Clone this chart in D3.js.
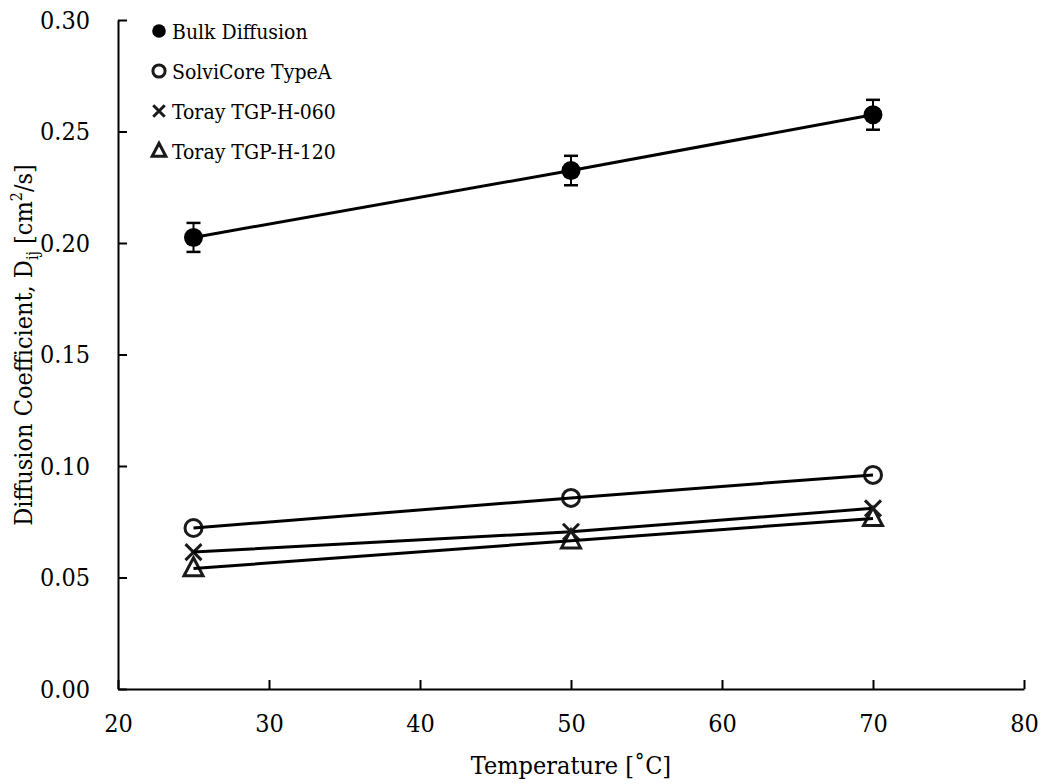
<!DOCTYPE html>
<html>
<head>
<meta charset="utf-8">
<script src="https://cdn.jsdelivr.net/npm/d3@7"></script>
<style>
  html, body { margin: 0; padding: 0; background: #fff; }
  svg { display: block; }
  text { font-family: "DejaVu Serif Condensed", "DejaVu Serif", serif; font-stretch: condensed; fill: #000; }
</style>
</head>
<body>
<svg id="chart" width="1044" height="784"></svg>
<script>
// ---- data ----
const temperatures = [25, 50, 70];
const bulkDiffusion = [0.2025, 0.2325, 0.2575];
const bulkError = [0.0065, 0.0066, 0.0067];
const solviCore = [0.0722, 0.0857, 0.0960];
const toray060 = [0.0614, 0.0705, 0.0810];
const toray120 = [0.0540, 0.0665, 0.0765];
const seriesNames = ["Bulk Diffusion", "SolviCore TypeA", "Toray TGP-H-060", "Toray TGP-H-120"];
const xTicks = [20, 30, 40, 50, 60, 70, 80];
const yTicks = [0.00, 0.05, 0.10, 0.15, 0.20, 0.25, 0.30];

// ---- layout ----
const FONT = '"DejaVu Serif Condensed", "DejaVu Serif", serif';
const svg = d3.select("#chart");
const x = d3.scaleLinear().domain([20, 80]).range([118, 1024]);
const y = d3.scaleLinear().domain([0, 0.30]).range([689, 20]);

const series = [
  { name: seriesNames[0], values: bulkDiffusion, err: bulkError, marker: "filled" },
  { name: seriesNames[1], values: solviCore, marker: "open" },
  { name: seriesNames[2], values: toray060, marker: "cross" },
  { name: seriesNames[3], values: toray120, marker: "triangle" }
];

function drawMarker(g, type, cx, cy, s, sw) {
  if (type === "filled") {
    g.append("circle").attr("cx", cx).attr("cy", cy).attr("r", 9.5 * s).attr("fill", "#000");
  } else if (type === "open") {
    g.append("circle").attr("cx", cx).attr("cy", cy).attr("r", 8.5 * s)
      .attr("fill", "none").attr("stroke", "#1a1a1a").attr("stroke-width", sw);
  } else if (type === "cross") {
    const d = 8 * s;
    g.append("path").attr("d", `M${cx - d},${cy - d}L${cx + d},${cy + d}M${cx - d},${cy + d}L${cx + d},${cy - d}`)
      .attr("stroke", "#1a1a1a").attr("stroke-width", sw).attr("fill", "none");
  } else if (type === "triangle") {
    const h = 18 * s, w = 9.5 * s;
    g.append("path").attr("d", `M${cx},${cy - h * 0.6}L${cx + w},${cy + h * 0.4}L${cx - w},${cy + h * 0.4}Z`)
      .attr("stroke", "#1a1a1a").attr("stroke-width", sw).attr("fill", "none")
      .attr("stroke-linejoin", "miter");
  }
}

// ---- axes ----
const xAxis = d3.axisBottom(x).tickValues(xTicks).tickSizeInner(-9).tickSizeOuter(0)
  .tickFormat(d3.format("d")).tickPadding(25);
const gx = svg.append("g").attr("transform", `translate(0,${y(0)})`).call(xAxis);
gx.select(".domain").attr("stroke", "#000").attr("stroke-width", 2);
gx.selectAll(".tick line").attr("stroke", "#000").attr("stroke-width", 2);
gx.selectAll(".tick text").attr("font-size", 25).attr("font-family", FONT).attr("fill", "#000");

const yAxis = d3.axisLeft(y).tickValues(yTicks).tickSizeInner(-9).tickSizeOuter(0)
  .tickFormat(d3.format(".2f")).tickPadding(28);
const gy = svg.append("g").attr("transform", `translate(${x(20)},0)`).call(yAxis);
gy.select(".domain").attr("stroke", "#000").attr("stroke-width", 2);
gy.selectAll(".tick line").attr("stroke", "#000").attr("stroke-width", 2);
gy.selectAll(".tick text").attr("font-size", 25).attr("font-family", FONT).attr("fill", "#000");

// ---- axis titles ----
svg.append("text").attr("x", x(50)).attr("y", 774).attr("text-anchor", "middle")
  .attr("font-size", 25).text("Temperature [˚C]");

const yt = svg.append("text").attr("transform", `translate(32,345) rotate(-90)`)
  .attr("text-anchor", "middle").attr("font-size", 25);
yt.append("tspan").text("Diffusion Coefficient, D");
yt.append("tspan").attr("font-size", 16).attr("dy", 6).text("ij");
yt.append("tspan").attr("dy", -6).text(" [cm");
yt.append("tspan").attr("font-size", 16).attr("dy", -10).text("2");
yt.append("tspan").attr("dy", 10).text("/s]");

// ---- data marks ----
const line = d3.line().x((d, i) => x(temperatures[i])).y(d => y(d));
const plot = svg.append("g");

series.forEach(s => {
  const g = plot.append("g");
  if (s.err) {
    s.values.forEach((v, i) => {
      const cx = x(temperatures[i]);
      const y1 = y(v + s.err[i]), y2 = y(v - s.err[i]);
      g.append("line").attr("x1", cx).attr("x2", cx).attr("y1", y1).attr("y2", y2)
        .attr("stroke", "#000").attr("stroke-width", 2);
      [y1, y2].forEach(yy => g.append("line").attr("x1", cx - 7).attr("x2", cx + 7)
        .attr("y1", yy).attr("y2", yy).attr("stroke", "#000").attr("stroke-width", 2.5));
    });
  }
  s.values.forEach((v, i) => drawMarker(g, s.marker, x(temperatures[i]), y(v), 1, 3));
  g.append("path").datum(s.values).attr("d", line)
    .attr("fill", "none").attr("stroke", "#000").attr("stroke-width", 3);
});

// ---- legend ----
const legendY = [31, 71, 111, 151];
const legend = svg.append("g");
series.forEach((s, i) => {
  drawMarker(legend, s.marker, 159, legendY[i], 0.72, 3);
  legend.append("text").attr("x", 172).attr("y", legendY[i] + 8)
    .attr("font-size", 21).text(s.name);
});
</script>
</body>
</html>
